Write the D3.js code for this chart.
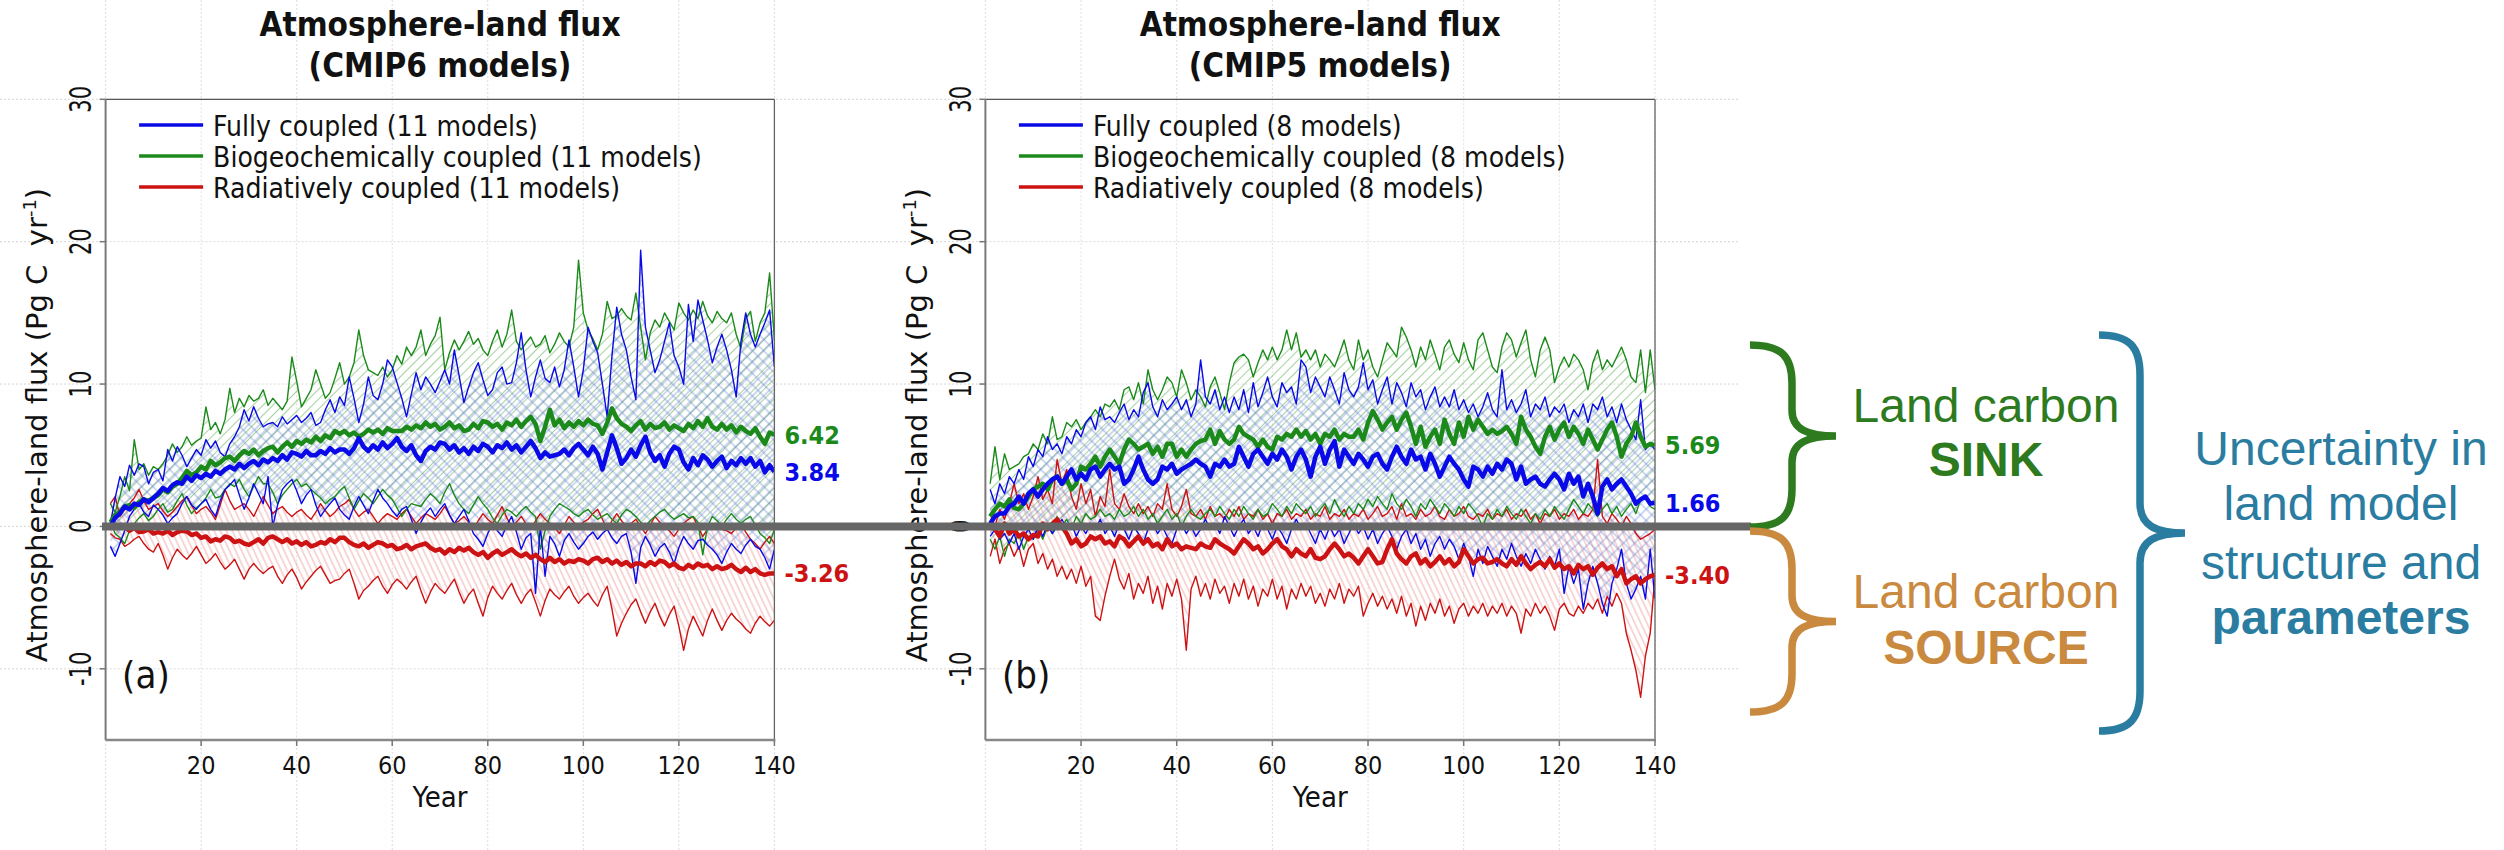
<!DOCTYPE html>
<html><head><meta charset="utf-8">
<script src="https://cdn.jsdelivr.net/npm/d3@7"></script>
<style>
html,body{margin:0;padding:0;background:#fff;}
svg{display:block;}
text{white-space:pre;}
</style></head><body>
<svg id="chart" width="2504" height="850"></svg>
<script>
// ---------------- DATA ----------------
const years = d3.range(1, 141);
const yTicks = [30, 20, 10, 0, -10];
const xTicks = [20, 40, 60, 80, 100, 120, 140];
const titleLine1 = "Atmosphere-land flux";
const titleA = "(CMIP6 models)";
const titleB = "(CMIP5 models)";
const legendA = ["Fully coupled (11 models)", "Biogeochemically coupled (11 models)", "Radiatively coupled (11 models)"];
const legendB = ["Fully coupled (8 models)", "Biogeochemically coupled (8 models)", "Radiatively coupled (8 models)"];
const tagA = "(a)", tagB = "(b)";
const yLabel = "Atmosphere-land flux (Pg C  yr";
const xLabel = "Year";
const endA = [6.42, 3.84, -3.26];   // bgc, fully, rad
const endB = [5.69, 1.66, -3.40];

// Panel (a) CMIP6
const aFcMean = [0.0,0.6,0.9,1.4,1.2,1.6,1.5,1.9,1.7,2.0,2.3,2.7,2.5,2.9,3.1,3.0,3.5,3.2,3.6,3.4,3.7,3.5,3.9,3.7,4.0,4.2,4.0,4.4,4.1,4.4,4.6,4.3,4.7,4.5,4.8,4.6,5.0,4.7,5.2,5.1,4.9,5.3,5.0,5.0,5.3,5.1,5.5,5.2,5.4,5.4,5.1,5.5,6.2,5.6,5.3,5.7,5.4,5.9,5.5,5.8,6.2,5.6,5.3,5.7,5.0,4.6,5.3,5.6,5.4,5.9,5.8,5.4,5.7,5.2,5.5,5.1,5.6,5.3,5.8,5.6,5.2,5.7,5.5,5.9,5.4,5.7,5.2,5.6,6.0,5.5,4.8,5.2,4.9,5.0,5.1,5.4,5.0,5.5,5.8,5.4,5.0,5.6,5.1,4.0,5.2,6.4,5.5,4.4,4.8,5.4,4.9,5.7,6.3,5.2,4.6,5.0,4.2,5.1,5.6,5.4,4.5,4.0,4.8,4.3,5.0,4.7,4.2,4.6,4.9,4.1,4.6,4.3,4.8,4.4,4.8,4.2,4.6,3.8,4.3,3.84];
const aBgcMean = [0.3,0.8,1.0,1.4,1.5,1.3,1.7,1.9,1.8,2.0,2.2,2.6,2.4,2.8,3.0,3.4,3.9,3.6,3.8,4.2,4.0,4.6,4.3,4.5,4.8,4.9,4.6,5.0,5.3,5.1,5.4,5.0,5.3,5.5,5.6,5.2,5.6,5.9,5.6,6.0,5.8,6.1,5.9,6.3,6.0,6.4,6.2,6.7,6.5,6.7,6.4,6.6,6.3,6.5,6.8,6.6,6.8,6.5,6.9,6.7,6.7,6.7,7.0,6.8,7.1,6.9,7.3,7.0,7.2,6.8,7.0,7.3,6.9,7.1,6.7,6.8,7.2,6.9,7.4,7.3,7.0,7.2,6.8,7.3,7.1,7.5,7.0,7.4,7.7,7.2,6.0,7.0,8.2,7.1,7.5,6.9,7.3,7.0,7.4,7.1,7.5,7.2,7.1,6.5,7.3,8.3,7.6,7.2,7.0,6.7,7.1,7.4,6.8,7.2,6.9,7.0,7.3,6.8,7.1,6.9,6.7,7.2,6.9,7.4,7.0,7.6,7.0,6.8,7.2,6.8,7.1,6.6,7.0,6.7,6.5,6.9,6.3,5.8,6.6,6.42];
const aRadMean = [0.2,-0.1,0.1,0.0,-0.3,-0.1,-0.4,-0.35,-0.2,-0.5,-0.4,-0.5,-0.3,-0.6,-0.4,-0.3,-0.35,-0.6,-0.5,-0.8,-0.7,-1.05,-0.9,-1.0,-0.7,-0.8,-1.1,-1.0,-1.2,-1.3,-1.1,-0.9,-1.2,-0.8,-0.7,-0.9,-1.1,-0.9,-1.2,-1.05,-1.3,-1.1,-1.4,-1.3,-1.1,-1.2,-0.9,-1.1,-0.8,-0.8,-1.1,-1.3,-1.4,-1.2,-1.5,-1.3,-1.1,-1.2,-1.4,-1.3,-1.6,-1.5,-1.3,-1.6,-1.4,-1.3,-1.2,-1.5,-1.7,-1.6,-1.9,-1.6,-1.8,-1.5,-1.7,-1.5,-1.8,-2.0,-1.8,-2.2,-1.9,-1.7,-2.0,-1.8,-1.6,-1.9,-2.1,-1.9,-2.2,-2.0,-2.3,-2.5,-2.2,-2.5,-2.3,-2.6,-2.4,-2.5,-2.3,-2.4,-2.6,-2.3,-2.2,-2.5,-2.3,-2.6,-2.4,-2.7,-2.5,-2.8,-2.6,-2.6,-2.8,-2.5,-2.7,-2.4,-2.5,-2.8,-2.6,-2.9,-3.0,-2.7,-2.9,-2.6,-2.8,-2.7,-3.0,-2.8,-3.0,-2.9,-2.7,-3.0,-3.2,-2.9,-3.2,-3.0,-3.3,-3.4,-3.3,-3.3];
const aFcMax = [0.2,2.0,3.5,2.8,4.3,3.6,4.4,4.2,3.0,3.8,4.0,3.2,5.4,4.6,5.6,5.0,4.2,4.8,5.4,5.0,6.1,5.5,6.0,5.2,4.9,5.8,6.3,7.0,8.2,7.4,8.4,7.6,7.0,7.2,7.3,7.0,7.7,7.2,7.5,7.8,7.3,7.6,8.0,7.1,7.3,8.2,8.9,8.0,9.1,8.5,10.5,9.0,7.3,8.6,10.5,9.2,8.9,10.0,11.7,11.2,10.1,9.0,7.7,9.3,10.8,9.6,10.5,10.0,9.4,10.2,11.0,10.0,12.4,10.6,8.7,9.8,10.8,11.5,10.3,9.2,9.6,10.8,11.2,10.0,10.1,11.5,13.6,11.0,9.1,10.5,11.7,10.4,10.1,11.2,9.8,11.0,13.1,11.2,9.1,11.0,14.0,13.0,12.2,10.0,7.7,12.0,15.4,13.5,12.4,10.5,8.9,19.4,14.0,12.4,10.8,11.7,13.0,14.3,12.0,11.2,10.0,15.6,13.0,15.9,14.5,13.1,11.5,12.6,13.5,12.4,11.0,9.1,13.0,15.0,13.5,12.6,13.5,14.3,15.2,11.2];
const aFcMin = [-1.4,-2.1,-1.2,-0.3,0.7,1.2,1.6,1.0,0.7,1.5,1.2,0.8,0.2,0.6,0.9,1.6,2.1,1.5,1.2,1.6,1.9,1.2,0.7,1.8,2.6,2.9,3.3,2.2,1.2,2.0,3.0,2.3,1.6,3.5,0.0,1.5,2.6,3.0,3.3,2.5,1.6,2.2,2.6,1.5,0.7,1.2,1.6,2.0,1.2,0.8,0.5,1.4,2.1,1.5,0.9,1.8,2.6,2.0,1.6,1.1,0.7,1.2,1.4,0.5,-0.5,0.3,0.9,1.3,0.7,1.2,1.6,0.8,0.2,0.7,1.2,0.4,-0.5,-0.9,-1.4,-0.5,0.2,-0.3,-0.7,0.1,0.7,-0.4,-1.6,-0.8,-0.5,-4.7,0.0,-3.5,-0.7,-1.2,-2.1,-1.0,-0.5,-1.1,-1.6,-1.2,-0.7,-0.4,-0.9,-0.5,-0.2,-0.8,-1.2,-0.7,-0.5,-1.8,-4.0,-1.5,-0.7,-1.3,-2.1,-1.5,-1.2,-1.8,-2.6,-1.5,-0.7,-1.2,-1.6,-1.0,-0.9,-1.3,-1.6,-2.0,-2.6,-1.8,-1.2,-1.6,-1.9,-1.3,-0.9,-1.4,-1.6,-2.2,-3.0,-1.6];
const aBgcMax = [1.6,1.0,2.1,3.5,2.5,6.1,4.0,4.4,3.6,4.2,4.0,4.4,5.0,5.8,5.2,5.6,6.3,5.7,6.0,6.2,8.4,6.8,7.3,6.5,7.5,9.7,8.0,9.0,8.4,9.2,8.8,9.0,9.6,8.5,9.0,8.6,8.2,8.8,11.9,10.2,8.4,9.0,9.6,11.0,10.0,9.0,9.4,10.4,11.5,10.0,10.5,11.5,13.8,12.0,11.0,10.8,10.6,11.2,10.5,11.0,12.0,11.4,12.6,12.0,12.6,13.8,12.0,12.8,13.4,14.7,11.0,12.2,13.1,12.4,13.0,13.7,12.8,13.2,12.4,12.0,13.0,13.8,12.6,13.5,15.2,13.0,12.4,12.9,13.3,12.6,12.8,13.4,12.2,12.8,13.6,13.0,12.6,14.0,18.7,15.0,13.8,13.2,12.4,13.5,15.8,14.6,14.8,15.3,14.8,14.5,16.4,14.0,11.7,13.6,14.5,14.0,15.0,14.4,13.8,15.7,15.0,14.5,15.2,14.6,15.8,14.8,14.3,15.1,14.6,14.3,15.0,13.5,12.5,14.6,15.1,13.0,14.3,15.0,17.8,13.1];
const aBgcMin = [0.3,-0.5,-0.8,-1.2,-0.3,0.2,0.6,0.9,0.4,0.7,1.2,1.6,1.0,1.2,1.8,2.3,1.5,0.9,1.3,1.6,2.0,2.6,2.0,2.1,2.6,3.0,2.8,3.3,2.6,2.1,2.8,3.5,3.0,3.0,2.4,1.6,2.2,2.6,3.0,3.3,2.8,3.0,2.6,2.3,2.0,1.6,1.9,2.1,2.5,2.8,2.0,1.2,1.8,2.3,2.0,1.6,2.1,2.6,2.2,1.9,1.3,0.7,1.2,1.6,1.5,1.4,1.9,2.3,2.0,1.6,2.4,3.0,2.2,1.6,1.2,0.9,1.5,2.1,1.6,1.2,0.6,0.2,0.8,1.2,1.0,0.7,1.1,1.4,1.0,0.7,-1.6,-0.3,0.7,1.2,1.6,1.4,1.2,0.9,0.7,1.0,1.2,0.8,0.5,0.7,0.9,0.5,0.2,0.8,1.2,1.0,0.7,0.3,0.0,0.4,0.7,1.0,1.2,0.8,0.5,0.7,0.9,0.6,0.7,0.3,-2.0,0.0,0.7,0.4,0.0,0.5,0.9,0.5,0.2,0.5,0.7,0.1,-0.5,-0.8,-1.2,-0.2];
const aRadMax = [1.6,2.1,0.7,1.2,1.6,2.0,2.6,1.8,1.2,1.4,1.6,1.1,0.7,1.0,1.4,1.8,2.1,1.5,0.9,1.2,1.4,1.0,0.5,1.5,2.6,1.8,1.2,1.4,1.6,1.2,0.7,1.4,2.1,1.5,0.9,1.2,1.4,1.0,0.7,1.0,1.2,0.8,0.5,1.0,1.6,1.1,0.7,1.0,1.4,1.6,1.9,1.2,0.7,1.0,1.2,0.7,0.2,0.6,0.9,0.7,0.5,0.9,1.2,0.7,0.2,0.6,0.9,0.7,0.5,0.9,1.4,0.8,0.2,0.4,0.7,0.3,-0.2,0.4,0.9,0.5,0.2,0.8,1.4,0.6,0.0,0.3,0.7,0.2,-0.2,0.4,0.9,0.5,0.2,-0.1,-0.5,0.1,0.7,0.3,0.0,0.3,0.5,0.9,1.2,0.5,-0.2,0.4,0.9,0.4,0.0,0.2,0.5,0.0,-0.5,0.1,0.7,0.3,0.0,-0.3,-0.7,-0.2,0.2,0.5,0.7,0.0,-0.7,-0.2,0.2,0.0,-0.2,-0.3,-0.5,-0.1,0.2,-0.4,-0.9,-1.2,-1.6,-1.1,-0.7,-1.2];
const aRadMin = [-0.5,-0.8,-0.9,-1.4,-1.2,-0.9,-0.7,-1.2,-1.6,-1.8,-1.2,-2.0,-3.0,-2.2,-1.6,-2.0,-2.3,-1.9,-1.4,-2.0,-2.6,-2.3,-1.9,-2.5,-3.0,-2.7,-2.3,-3.0,-3.7,-3.0,-2.6,-3.0,-3.3,-3.0,-2.8,-3.5,-4.0,-3.4,-3.0,-3.6,-4.4,-3.9,-3.5,-3.1,-2.8,-3.4,-4.0,-3.8,-3.7,-3.3,-3.0,-4.0,-5.1,-4.5,-4.2,-3.8,-3.5,-4.2,-4.7,-4.1,-3.7,-4.0,-4.4,-3.9,-3.5,-4.5,-5.4,-4.6,-4.0,-4.4,-4.7,-4.2,-3.7,-4.6,-5.4,-4.8,-4.4,-5.4,-6.3,-5.0,-4.2,-4.7,-5.1,-4.5,-4.0,-4.8,-5.4,-4.8,-4.4,-5.3,-6.3,-5.2,-4.4,-4.8,-5.1,-4.6,-4.2,-4.9,-5.4,-5.0,-4.7,-5.2,-5.6,-4.8,-4.2,-5.8,-7.7,-6.8,-6.1,-5.5,-5.1,-6.0,-6.8,-6.0,-5.4,-6.3,-7.0,-6.2,-5.6,-7.0,-8.7,-7.2,-6.3,-7.0,-7.7,-6.6,-5.8,-6.6,-7.3,-6.6,-6.1,-6.5,-6.8,-7.2,-7.5,-6.8,-6.3,-6.7,-7.0,-6.6];

// Panel (b) CMIP5
const bFcMean = [0.2,0.7,0.9,0.9,1.4,1.6,2.1,1.6,2.3,2.6,2.1,2.6,3.0,3.3,3.5,3.0,3.5,4.0,3.3,3.7,3.3,4.0,4.2,3.5,4.0,4.4,4.0,4.2,3.0,3.3,4.0,4.9,4.0,3.3,3.0,3.3,4.2,4.0,4.4,3.7,4.0,4.2,4.4,4.7,4.4,4.2,3.5,4.4,4.2,4.7,4.2,4.4,5.6,4.9,4.2,5.1,5.4,4.9,4.4,5.1,4.7,5.4,4.9,4.0,4.9,5.4,4.7,3.5,4.9,5.6,4.4,5.4,6.0,4.2,5.4,4.9,4.4,5.1,4.7,4.2,4.9,5.1,4.4,4.0,4.9,5.6,4.9,4.4,5.4,4.7,4.9,4.0,5.1,4.4,3.5,4.2,4.9,4.4,4.0,3.3,2.8,4.2,4.0,3.5,4.2,3.7,4.4,4.0,4.7,4.4,3.3,4.2,3.0,3.3,3.5,3.0,2.8,3.3,3.7,3.3,2.6,3.7,3.0,3.5,2.1,3.0,2.1,0.9,2.8,3.3,2.6,3.0,3.3,2.8,2.3,1.6,1.9,2.1,1.6,1.66];
const bBgcMean = [0.7,1.2,1.6,1.4,1.9,1.3,1.2,1.6,2.1,2.6,2.8,3.0,2.6,3.3,3.5,3.0,3.3,2.6,3.0,4.2,4.0,4.4,4.9,4.2,4.9,5.4,4.9,4.4,5.4,6.1,5.8,5.4,5.6,5.8,5.1,5.6,4.9,5.8,5.8,4.9,5.4,4.9,5.4,5.8,6.0,6.1,6.8,5.8,6.7,6.1,5.8,6.1,7.0,6.5,6.3,6.1,5.6,6.1,5.6,5.4,6.3,6.1,6.5,6.3,6.8,6.3,6.7,6.1,6.5,5.8,6.5,6.3,6.8,6.1,6.5,6.3,6.3,6.8,6.1,7.3,8.1,7.5,6.8,7.3,7.7,6.8,7.5,8.0,7.0,5.8,7.0,5.6,6.3,6.8,5.8,7.5,6.5,5.8,7.3,6.3,7.7,6.8,7.5,7.0,6.5,6.8,6.5,6.7,7.0,6.5,5.8,7.7,6.8,6.3,5.6,5.1,6.3,7.0,6.1,6.8,7.3,6.3,7.0,6.5,5.8,6.8,6.1,5.4,6.1,6.8,7.3,6.3,4.9,5.8,6.3,7.3,6.3,5.6,5.8,5.69];
const bRadMean = [0.0,-0.2,-0.7,0.2,-0.5,-0.2,-0.7,-0.5,-0.9,-0.6,-0.7,0.2,-0.2,0.2,0.5,0.0,-0.5,-1.2,-0.9,-1.4,-1.2,-0.7,-0.9,-0.7,-1.2,-1.05,-1.4,-0.7,-0.9,-1.4,-1.05,-0.7,-1.2,-0.9,-1.4,-1.2,-1.6,-0.9,-1.4,-1.2,-1.6,-1.4,-1.5,-1.6,-1.2,-1.4,-1.5,-0.9,-1.2,-1.4,-1.6,-1.9,-1.4,-0.9,-1.2,-1.6,-1.4,-1.9,-1.6,-1.2,-0.9,-1.4,-1.6,-2.1,-1.6,-1.9,-2.1,-1.6,-2.2,-2.3,-2.1,-1.6,-1.2,-1.6,-2.1,-1.9,-2.2,-2.6,-2.1,-1.6,-2.1,-2.6,-2.5,-1.6,-0.9,-1.9,-2.3,-2.6,-2.1,-1.9,-2.6,-2.3,-2.8,-2.5,-2.1,-2.6,-2.3,-2.8,-2.5,-1.6,-2.1,-2.6,-2.3,-2.2,-2.6,-2.5,-2.3,-2.6,-2.8,-2.3,-2.7,-2.1,-2.6,-3.0,-2.7,-2.5,-2.8,-2.3,-2.9,-2.6,-3.0,-2.8,-3.3,-2.7,-3.0,-2.8,-3.4,-2.9,-2.6,-3.0,-2.8,-3.5,-3.0,-4.0,-3.7,-3.5,-4.0,-3.7,-3.5,-3.4];
const bFcMax = [2.6,1.6,3.0,2.3,3.5,3.0,4.0,3.3,4.9,4.2,5.4,4.9,6.3,5.4,5.8,5.1,6.3,5.8,6.8,6.3,7.3,7.7,6.8,8.4,7.5,7.7,7.3,8.0,8.6,7.5,8.2,7.7,9.4,10.1,8.4,7.7,8.9,8.2,8.6,9.1,8.2,8.9,7.7,8.6,11.7,9.1,8.6,9.6,8.2,9.1,8.0,9.1,8.2,9.6,8.0,10.1,8.4,9.4,10.5,9.1,8.4,10.1,9.4,9.8,8.6,11.7,11.2,9.4,10.5,9.8,9.1,10.5,9.6,8.6,10.8,9.6,9.1,9.8,11.5,9.6,10.3,8.6,9.6,10.5,8.6,10.1,9.4,8.4,10.1,9.1,9.6,8.2,9.1,9.8,8.4,9.1,8.4,9.6,8.2,8.9,8.0,8.6,7.7,8.4,9.4,8.2,7.7,11.0,8.2,8.9,8.0,8.6,9.6,7.7,8.6,8.2,9.1,7.7,8.4,8.0,8.6,7.3,8.2,7.7,8.6,7.3,8.6,8.2,9.1,7.7,8.4,7.3,8.6,7.5,6.8,6.1,8.9,5.4,5.8,5.4];
const bFcMin = [-0.7,-0.2,-0.9,-0.5,-1.2,-0.5,-1.6,-0.7,-0.2,-0.9,0.0,-0.7,0.2,-0.5,0.0,0.5,-0.2,0.2,-0.7,0.0,-0.5,0.2,-0.2,0.5,-0.5,0.0,-0.7,0.2,-0.2,-0.9,0.0,-0.5,-1.2,-0.2,0.2,-0.5,0.0,-0.7,-1.2,-0.2,0.2,-0.5,0.0,-0.7,-0.2,0.5,-0.2,0.2,-0.5,0.7,0.0,-0.7,0.0,0.5,-0.5,0.0,-0.7,0.2,-0.2,-0.9,0.0,-0.5,-1.2,-0.2,0.5,-0.2,0.2,-0.5,-1.2,-0.2,-0.9,0.0,-0.7,-0.2,-1.2,-0.5,0.2,-0.5,0.0,-0.9,-0.2,-1.2,-0.5,0.0,-0.7,-1.6,-0.7,-0.2,-1.2,-0.5,-1.6,-0.9,-2.1,-1.2,-0.7,-1.6,-0.9,-1.4,-2.3,-1.2,-2.1,-3.5,-1.6,-2.6,-1.4,-2.1,-2.8,-1.6,-2.3,-1.2,-2.1,-2.8,-1.9,-2.6,-1.6,-2.3,-3.0,-2.1,-2.8,-1.6,-4.7,-2.8,-4.0,-3.0,-5.8,-4.0,-2.8,-4.0,-5.4,-6.3,-4.0,-3.0,-1.6,-4.0,-5.1,-4.4,-3.5,-5.1,-1.6,-5.1];
const bBgcMax = [3.0,5.6,3.3,5.1,4.0,4.2,4.4,4.9,5.1,5.8,5.4,6.5,5.8,7.7,6.1,6.3,7.3,7.0,7.5,6.8,7.3,7.7,8.2,7.7,8.6,8.4,8.9,8.2,9.6,9.8,8.9,10.1,8.6,11.0,9.6,8.9,9.6,10.5,10.1,9.1,11.0,10.1,8.9,9.6,9.1,8.4,9.8,10.5,9.4,8.2,10.1,11.5,11.9,12.1,11.7,10.5,11.5,12.4,11.7,12.6,11.7,12.4,13.8,12.4,13.6,11.9,12.4,11.7,12.4,11.2,12.1,11.7,11.2,12.1,13.1,11.7,11.0,13.1,11.7,12.4,11.2,10.5,11.7,12.9,12.4,11.9,14.0,13.3,12.4,11.2,12.6,11.7,13.1,12.1,11.0,12.6,13.1,12.1,11.5,12.9,11.7,11.0,13.1,13.6,12.4,11.2,10.8,12.6,13.6,13.1,11.9,12.9,13.8,11.7,10.5,12.4,13.3,12.4,10.1,11.2,11.9,11.2,12.1,11.7,11.0,9.6,11.5,12.4,11.0,11.7,11.2,11.9,12.6,11.7,10.5,10.1,12.4,9.4,12.4,9.6];
const bBgcMin = [-0.9,-1.6,-0.7,-2.1,-0.9,-1.2,-0.5,-1.6,-0.7,-0.9,-0.2,-0.9,0.0,-0.5,0.7,0.0,0.5,-0.2,0.7,0.2,0.9,0.5,0.7,1.2,0.7,0.9,0.5,1.2,0.7,0.9,1.4,0.7,1.2,0.5,0.9,0.2,0.7,1.2,0.5,0.9,0.0,0.7,1.2,0.7,0.5,0.9,1.2,0.7,1.4,0.9,0.5,1.2,0.7,1.4,0.9,0.5,1.2,0.7,0.9,1.6,1.2,0.7,1.4,0.9,1.6,1.2,0.9,1.4,0.7,1.2,1.6,0.9,1.9,1.2,0.7,1.4,0.9,1.6,1.2,1.9,1.4,2.1,1.6,1.2,2.3,1.6,1.2,1.9,1.4,0.7,1.6,1.2,1.9,1.4,0.9,1.6,1.2,0.7,1.4,0.9,1.6,1.2,0.7,0.0,0.9,0.5,1.2,0.7,1.4,0.9,0.5,1.2,0.7,0.2,0.9,0.5,1.2,0.7,1.4,0.9,0.5,1.2,1.9,1.4,0.9,1.6,1.2,0.7,1.2,1.6,0.9,1.4,0.7,1.2,1.6,0.9,1.9,2.1,1.4,1.2];
const bRadMax = [0.9,0.0,1.2,0.5,1.6,3.0,1.6,2.3,1.2,2.1,3.5,1.9,2.6,1.6,4.7,3.0,4.0,2.1,1.2,3.0,1.6,2.6,0.7,2.1,1.4,4.0,1.6,1.2,2.3,1.4,0.9,1.6,0.9,1.4,0.7,1.6,1.2,3.0,1.2,0.7,1.4,2.6,0.9,0.7,1.2,0.5,1.4,0.7,0.9,0.5,1.2,0.7,1.4,0.5,0.9,0.7,1.2,0.5,0.9,0.2,0.9,0.7,1.2,0.5,0.9,0.7,1.2,0.5,0.9,0.7,1.4,0.5,0.9,0.7,1.2,0.5,0.9,0.7,1.2,0.5,0.9,1.4,0.7,0.9,1.4,0.5,1.6,0.7,0.9,0.5,1.2,0.7,0.9,1.4,0.7,0.5,1.2,0.7,0.9,1.4,0.7,0.5,0.9,0.7,1.2,0.5,0.9,0.7,1.2,0.5,0.9,0.7,1.2,0.5,0.9,0.2,0.9,0.7,1.2,0.5,0.9,0.7,1.2,0.5,0.9,0.7,1.2,4.7,0.7,0.2,0.9,0.5,0.0,0.7,0.2,-0.5,-0.9,-0.7,-0.5,-0.2];
const bRadMin = [-2.1,-0.9,-2.6,-1.6,-1.2,-2.1,-1.4,-2.8,-1.6,-1.2,-2.6,-1.9,-3.0,-2.3,-3.5,-2.8,-3.7,-3.0,-4.0,-2.8,-4.2,-3.5,-6.3,-6.6,-4.9,-3.5,-2.3,-3.7,-4.4,-3.3,-5.1,-4.0,-4.7,-3.5,-5.4,-4.2,-5.8,-4.0,-4.9,-3.7,-5.1,-8.7,-4.4,-3.5,-4.9,-4.0,-5.1,-3.7,-4.7,-4.2,-5.4,-4.0,-4.9,-3.7,-5.1,-4.2,-5.6,-4.4,-4.9,-3.7,-5.1,-4.2,-5.8,-4.4,-5.1,-4.0,-4.9,-4.2,-5.4,-4.7,-5.6,-4.4,-5.1,-4.0,-5.4,-4.4,-4.9,-4.2,-6.3,-5.4,-4.7,-5.6,-4.9,-5.8,-5.1,-6.1,-4.9,-6.3,-5.4,-7.0,-5.6,-6.6,-5.4,-6.1,-5.1,-6.3,-5.6,-6.8,-5.8,-5.4,-6.3,-5.6,-6.1,-5.4,-6.3,-5.6,-6.1,-5.4,-6.3,-5.6,-6.1,-7.5,-5.8,-6.3,-5.4,-6.1,-5.6,-6.3,-7.3,-5.8,-5.4,-6.1,-6.3,-5.6,-6.1,-5.4,-5.8,-5.1,-6.1,-4.9,-5.6,-4.7,-5.4,-7.5,-8.7,-10.1,-12.0,-9.1,-7.5,-3.5];

// annotation texts
const sinkText = ["Land carbon", "SINK"];
const sourceText = ["Land carbon", "SOURCE"];
const uncText = ["Uncertainty in", "land model", "structure and", "parameters"];

// ---------------- STYLE / LAYOUT ----------------
const COND = "'DejaVu Sans Condensed','DejaVu Sans',sans-serif";
const WIDE = "'DejaVu Sans',Verdana,sans-serif";
const HELV = "'Liberation Sans',Arial,Helvetica,sans-serif";
const C = {
  blue: "#0a0ae8", green: "#1b8a1b", red: "#cc1212",
  hatchG: "rgba(95,175,85,0.55)", hatchB: "rgba(95,125,205,0.55)", hatchR: "rgba(230,110,110,0.5)",
  sink: "#2d7a1f", source: "#c9893e", unc: "#2a7da1"
};
const TOP = 99.3, BOT = 740;

const svg = d3.select("#chart");
const defs = svg.append("defs");
function hatch(id, angle, sp, color, cross) {
  const p = defs.append("pattern").attr("id", id).attr("patternUnits", "userSpaceOnUse")
    .attr("width", sp).attr("height", sp).attr("patternTransform", `rotate(${angle})`);
  p.append("line").attr("x1", sp / 2).attr("y1", 0).attr("x2", sp / 2).attr("y2", sp)
    .attr("stroke", color).attr("stroke-width", 1.1);
  if (cross) p.append("line").attr("x1", 0).attr("y1", sp / 2).attr("x2", sp).attr("y2", sp / 2)
    .attr("stroke", color).attr("stroke-width", 1.1);
}
hatch("hG", 45, 7, C.hatchG, false);
hatch("hB", 45, 8, C.hatchB, true);
hatch("hR", -25, 5.5, C.hatchR, false);

const yScale = d3.scaleLinear().domain([-15, 30]).range([BOT, TOP]);

// background grid (faint dotted), spanning the figure
const grid = svg.append("g");
yTicks.forEach(v => {
  grid.append("line").attr("x1", 0).attr("x2", 1740).attr("y1", yScale(v)).attr("y2", yScale(v))
    .attr("stroke", "#d6d6d6").attr("stroke-width", 1).attr("stroke-dasharray", "2,2");
});

function drawPanel(L, R, d, legend, title2, tag, ends) {
  const x = d3.scaleLinear().domain([0, 140]).range([L, R]);
  const y = yScale;
  const g = svg.append("g");
  [0].concat(xTicks).forEach(t => {
    g.append("line").attr("x1", x(t)).attr("x2", x(t)).attr("y1", 0).attr("y2", 850)
      .attr("stroke", "#dcdcdc").attr("stroke-width", 1).attr("stroke-dasharray", "2,2");
  });
  g.append("rect").attr("x", L).attr("y", TOP).attr("width", R - L).attr("height", BOT - TOP).attr("fill", "#fff");
  yTicks.forEach(v => {
    g.append("line").attr("x1", L).attr("x2", R).attr("y1", y(v)).attr("y2", y(v))
      .attr("stroke", "#dadada").attr("stroke-width", 1).attr("stroke-dasharray", "2,2");
  });
  xTicks.forEach(t => {
    g.append("line").attr("x1", x(t)).attr("x2", x(t)).attr("y1", TOP).attr("y2", BOT)
      .attr("stroke", "#e0e0e0").attr("stroke-width", 1).attr("stroke-dasharray", "2,2");
  });

  const area = (mx, mn) => d3.area().x((v, i) => x(years[i])).y0((v, i) => y(mn[i])).y1((v, i) => y(mx[i]))(mx);
  const line = arr => d3.line().x((v, i) => x(years[i])).y(v => y(v))(arr);
  const clipId = "clip" + Math.round(L);
  defs.append("clipPath").attr("id", clipId).append("rect").attr("x", L).attr("y", TOP).attr("width", R - L).attr("height", BOT - TOP);
  const pg = g.append("g").attr("clip-path", `url(#${clipId})`);
  pg.append("path").attr("d", area(d.bgcMax, d.bgcMin)).attr("fill", "url(#hG)");
  pg.append("path").attr("d", area(d.fcMax, d.fcMin)).attr("fill", "url(#hB)");
  pg.append("path").attr("d", area(d.radMax, d.radMin)).attr("fill", "url(#hR)");
  [[d.radMax, C.red], [d.radMin, C.red], [d.bgcMax, C.green], [d.bgcMin, C.green], [d.fcMax, C.blue], [d.fcMin, C.blue]]
    .forEach(([arr, col]) => pg.append("path").attr("d", line(arr)).attr("fill", "none").attr("stroke", col)
      .attr("stroke-width", 1.4).attr("stroke-linejoin", "round"));
  [[d.radMean, C.red], [d.bgcMean, C.green], [d.fcMean, C.blue]]
    .forEach(([arr, col]) => pg.append("path").attr("d", line(arr)).attr("fill", "none").attr("stroke", col)
      .attr("stroke-width", 4.5).attr("stroke-linejoin", "round"));

  // frame
  g.append("line").attr("x1", L).attr("x2", R).attr("y1", TOP).attr("y2", TOP).attr("stroke", "#555").attr("stroke-width", 1.3);
  g.append("line").attr("x1", R).attr("x2", R).attr("y1", TOP).attr("y2", BOT).attr("stroke", "#666").attr("stroke-width", 1.3);
  g.append("line").attr("x1", L).attr("x2", L).attr("y1", TOP).attr("y2", BOT).attr("stroke", "#7a7a7a").attr("stroke-width", 2);
  g.append("line").attr("x1", L).attr("x2", R + 1).attr("y1", BOT).attr("y2", BOT).attr("stroke", "#888").attr("stroke-width", 2.5);
  yTicks.forEach(v => {
    g.append("line").attr("x1", L - 6).attr("x2", L).attr("y1", y(v)).attr("y2", y(v)).attr("stroke", "#777").attr("stroke-width", 1.5);
    g.append("text").attr("transform", `translate(${L - 25},${y(v)}) rotate(-90) scale(1,1.4)`).attr("text-anchor", "middle")
      .attr("dy", "0.36em").attr("font-family", WIDE).attr("font-size", 21).attr("fill", "#111").text(v);
  });
  xTicks.forEach(t => {
    g.append("line").attr("x1", x(t)).attr("x2", x(t)).attr("y1", BOT).attr("y2", BOT + 6).attr("stroke", "#777").attr("stroke-width", 1.5);
    g.append("text").attr("x", x(t)).attr("y", 774).attr("text-anchor", "middle")
      .attr("font-family", COND).attr("font-size", 25).attr("fill", "#111").text(t);
  });
  // axis titles
  const cx = (L + R) / 2;
  g.append("text").attr("x", cx).attr("y", 807).attr("text-anchor", "middle").attr("font-family", COND)
    .attr("font-size", 29).attr("fill", "#111").text(xLabel);
  const yl = g.append("text").attr("transform", `translate(${L - 69},425) rotate(-90)`).attr("text-anchor", "middle")
    .attr("dy", "0.36em").attr("font-family", WIDE).attr("font-size", 29).attr("fill", "#111");
  yl.append("tspan").text(yLabel);
  yl.append("tspan").attr("dy", -11).attr("font-size", 18).text("-1");
  yl.append("tspan").attr("dy", 11).text(")");
  // title
  g.append("text").attr("x", cx).attr("y", 36).attr("text-anchor", "middle").attr("font-family", COND)
    .attr("font-weight", "bold").attr("font-size", 33).attr("fill", "#111").text(titleLine1);
  g.append("text").attr("x", cx).attr("y", 76.5).attr("text-anchor", "middle").attr("font-family", COND)
    .attr("font-weight", "bold").attr("font-size", 33).attr("fill", "#111").text(title2);
  // legend
  [C.blue, C.green, C.red].forEach((col, i) => {
    const ly = 125 + i * 31;
    g.append("line").attr("x1", L + 33.5).attr("x2", L + 97.5).attr("y1", ly).attr("y2", ly)
      .attr("stroke", col).attr("stroke-width", 3.5);
    g.append("text").attr("x", L + 107.5).attr("y", ly).attr("dy", "0.38em").attr("font-family", COND)
      .attr("font-size", 28).attr("fill", "#111").text(legend[i]);
  });
  // panel tag
  g.append("text").attr("x", L + 16.5).attr("y", 688).attr("font-family", COND).attr("font-size", 38)
    .attr("fill", "#111").text(tag);
  // end labels
  [[ends[0], C.green], [ends[1], C.blue], [ends[2], C.red]].forEach(([v, col]) => {
    g.append("text").attr("x", R + 10).attr("y", y(v)).attr("dy", "0.36em").attr("font-family", COND)
      .attr("font-weight", "bold").attr("font-size", 25).attr("fill", col).text(v.toFixed(2));
  });
}

drawPanel(105.6, 774.4, {
  fcMean: aFcMean, fcMax: aFcMax, fcMin: aFcMin, bgcMean: aBgcMean, bgcMax: aBgcMax, bgcMin: aBgcMin,
  radMean: aRadMean, radMax: aRadMax, radMin: aRadMin
}, legendA, titleA, tagA, endA);
drawPanel(985.4, 1655, {
  fcMean: bFcMean, fcMax: bFcMax, fcMin: bFcMin, bgcMean: bBgcMean, bgcMax: bBgcMax, bgcMin: bBgcMin,
  radMean: bRadMean, radMax: bRadMax, radMin: bRadMin
}, legendB, titleB, tagB, endB);

// zero line across both panels
svg.append("line").attr("x1", 102).attr("x2", 1751).attr("y1", yScale(0)).attr("y2", yScale(0))
  .attr("stroke", "#666").attr("stroke-width", 8);

// braces
function brace(x0, y1, y2, s, p, r1, r2) {
  const ym = (y1 + y2) / 2, xs = x0 + s, xp = x0 + p;
  return `M${x0},${y1} C${x0 + s * 0.75},${y1} ${xs},${y1 + r1 * 0.3} ${xs},${y1 + r1}` +
    ` L${xs},${ym - r2} C${xs},${ym - r2 * 0.25} ${xs + (p - s) * 0.35},${ym} ${xp},${ym}` +
    ` C${xs + (p - s) * 0.35},${ym} ${xs},${ym + r2 * 0.25} ${xs},${ym + r2}` +
    ` L${xs},${y2 - r1} C${xs},${y2 - r1 * 0.3} ${x0 + s * 0.75},${y2} ${x0},${y2}`;
}
const ann = svg.append("g").attr("fill", "none").attr("stroke-width", 7.5);
ann.append("path").attr("d", brace(1750, 345, 527, 42, 86, 38, 26)).attr("stroke", C.sink);
ann.append("path").attr("d", brace(1750, 531, 712, 42, 86, 38, 26)).attr("stroke", C.source);
ann.append("path").attr("d", brace(2099, 335, 731, 41, 86, 40, 30)).attr("stroke", C.unc);

function annText(lines, x, ys, col, boldIdx) {
  lines.forEach((t, i) => {
    svg.append("text").attr("x", x).attr("y", ys[i]).attr("text-anchor", "middle").attr("font-family", HELV)
      .attr("font-size", 48).attr("font-weight", i === boldIdx ? "bold" : "normal").attr("fill", col).text(t);
  });
}
annText(sinkText, 1986, [422, 476], C.sink, 1);
annText(sourceText, 1986, [608, 664], C.source, 1);
annText(uncText, 2341, [465, 520, 579, 634], C.unc, 3);
</script>
</body></html>
